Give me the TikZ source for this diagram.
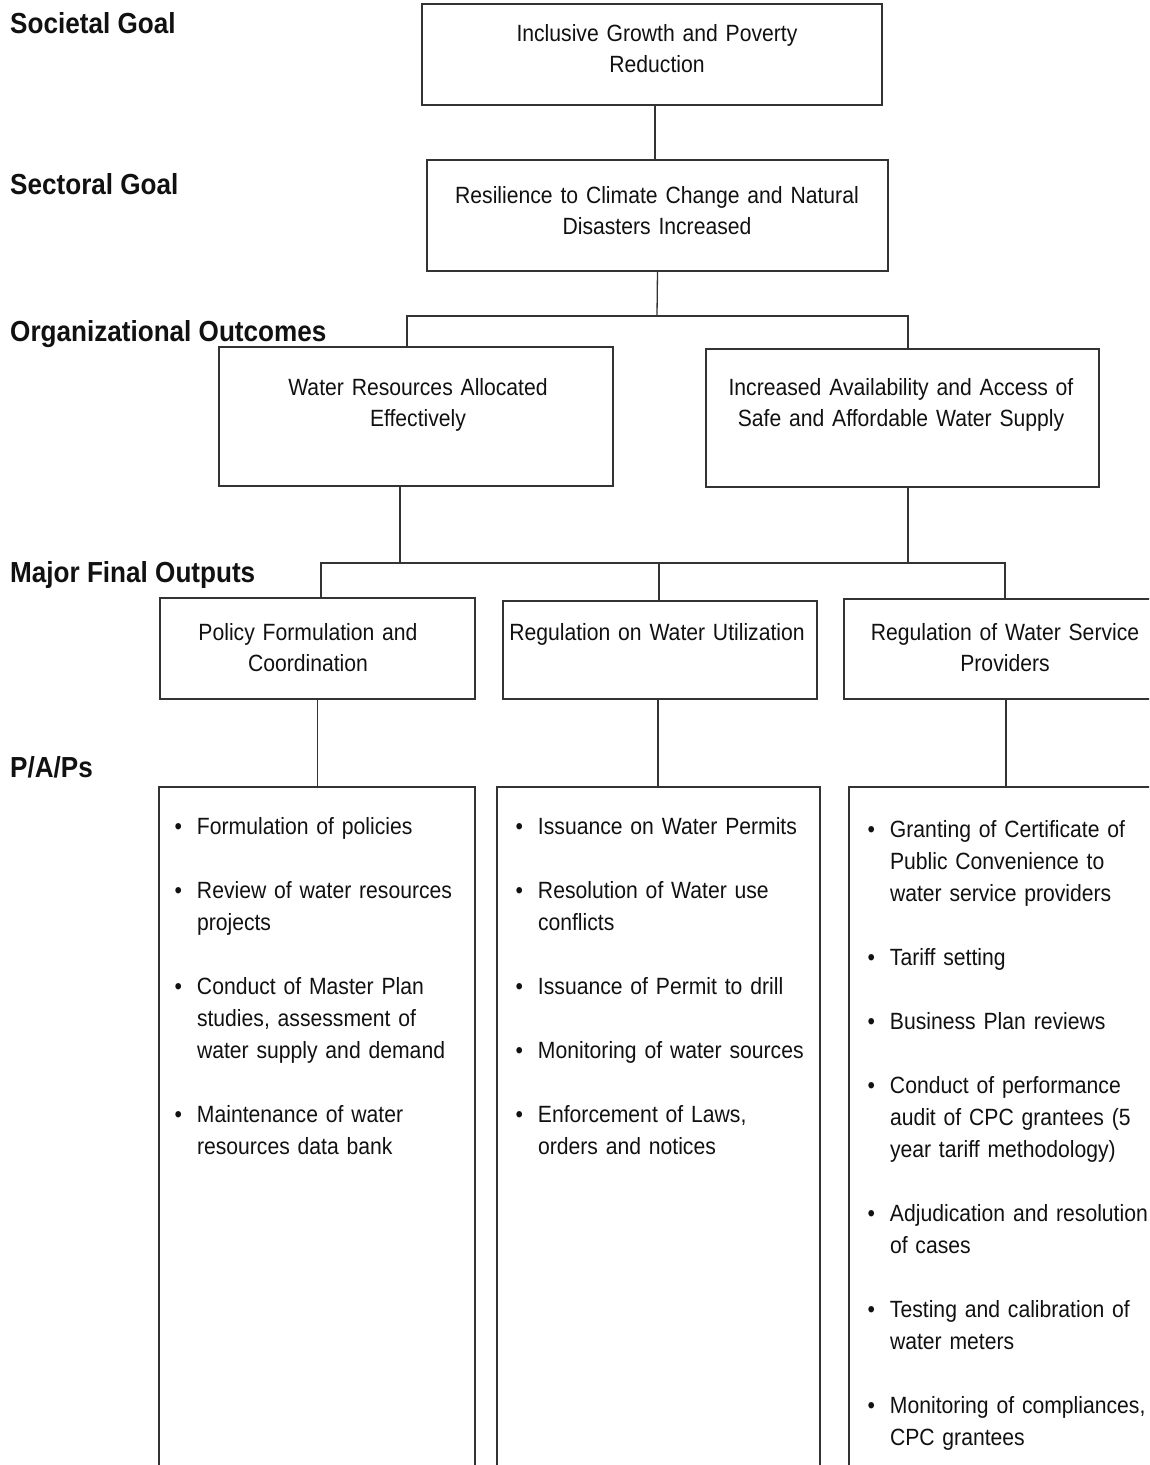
\documentclass[tikz,border=0pt]{standalone}
\usepackage{fontspec}
\setmainfont{Liberation Sans}[FakeStretch=0.9,WordSpace=0.62]
\newfontfamily\lblfont{Liberation Sans}[FakeStretch=0.9]
\definecolor{linec}{HTML}{333333}
\definecolor{txtc}{HTML}{111111}
\newcommand\bfirst[1]{\hangindent=22.5pt\hangafter=1\noindent\rule{0pt}{24pt}\makebox[22.5pt][l]{\textbullet}#1}
\newcommand\bitem[1]{\par\bfirst{#1}}
\tikzset{
  box/.style={draw=linec, line width=1.3pt, inner sep=0pt, outer sep=0pt, anchor=north west},
  conn/.style={draw=linec, line width=1.3pt},
  btxt/.style={inner sep=0pt, text width=#1, align=center, anchor=north, text=txtc,
               font=\fontsize{23.5}{31}\selectfont},
  lbl/.style={inner sep=0pt, anchor=base west, text=txtc, font=\lblfont\bfseries\fontsize{29}{32}\selectfont},
  blist/.style={inner sep=0pt, text width=300pt, anchor=north west, text=txtc,
               font=\fontsize{23.5}{32}\selectfont},
}
\begin{document}
\begin{tikzpicture}[x=1pt,y=-1pt]
\useasboundingbox (0,0) rectangle (1149,1465);
\clip (0,0) rectangle (1149,1465);
\fill[white] (0,0) rectangle (1149,1465);

% level labels
\node[lbl] (l1) at (10,33) {Societal Goal};
\node[lbl] (l2) at (10,194) {Sectoral Goal};
\node[lbl] (l3) at (10,341) {Organizational Outcomes};
\node[lbl] (l4) at (10,582) {Major Final Outputs};
\node[lbl] (l5) at (10,777) {P/A/Ps};

% boxes
\node[box, minimum width=460pt, minimum height=101pt] (b1) at (422,4) {};
\node[box, minimum width=461pt, minimum height=111pt] (b2) at (427,160) {};
\node[box, minimum width=394pt, minimum height=139pt] (b3) at (219,347) {};
\node[box, minimum width=393pt, minimum height=138pt] (b4) at (706,349) {};
\node[box, minimum width=315pt, minimum height=101pt] (b5) at (160,598) {};
\node[box, minimum width=314pt, minimum height=98pt] (b6) at (503,601) {};
\node[box, minimum width=326pt, minimum height=100pt] (b7) at (844,599) {};
\node[box, minimum width=316pt, minimum height=720pt] (b8) at (159,787) {};
\node[box, minimum width=323pt, minimum height=720pt] (b9) at (497,787) {};
\node[box, minimum width=321pt, minimum height=720pt] (b10) at (849,787) {};

% box texts
\node[btxt=440pt] (t1) at (657,17) {\rule{0pt}{24pt}Inclusive Growth and Poverty\\Reduction};
\node[btxt=440pt] (t2) at (657,179) {\rule{0pt}{24pt}Resilience to Climate Change and Natural\\Disasters Increased};
\node[btxt=380pt] (t3) at (418,371) {\rule{0pt}{24pt}Water Resources Allocated\\Effectively};
\node[btxt=380pt] (t4) at (901,371) {\rule{0pt}{24pt}Increased Availability and Access of\\Safe and Affordable Water Supply};
\node[btxt=300pt] (t5) at (308,616) {\rule{0pt}{24pt}Policy Formulation and\\Coordination};
\node[btxt=300pt] (t6) at (657,616) {\rule{0pt}{24pt}Regulation on Water Utilization};
\node[btxt=300pt] (t7) at (1005,616) {\rule{0pt}{24pt}Regulation of Water Service\\Providers};

% lists
\node[blist] (p1) at (174.3,810) {\parskip=32pt%
\bfirst{Formulation of policies}%
\bitem{Review of water resources\newline projects}%
\bitem{Conduct of Master Plan\newline studies, assessment of\newline water supply and demand}%
\bitem{Maintenance of water\newline resources data bank}\par};
\node[blist] (p2) at (515.3,810) {\parskip=32pt%
\bfirst{Issuance on Water Permits}%
\bitem{Resolution of Water use\newline conflicts}%
\bitem{Issuance of Permit to drill}%
\bitem{Monitoring of water sources}%
\bitem{Enforcement of Laws,\newline orders and notices}\par};
\node[blist] (p3) at (867.3,813) {\parskip=32pt%
\bfirst{Granting of Certificate of\newline Public Convenience to\newline water service providers}%
\bitem{Tariff setting}%
\bitem{Business Plan reviews}%
\bitem{Conduct of performance\newline audit of CPC grantees (5\newline year tariff methodology)}%
\bitem{Adjudication and resolution\newline of cases}%
\bitem{Testing and calibration of\newline water meters}%
\bitem{Monitoring of compliances,\newline CPC grantees}\par};

% connectors
\draw[conn] ([xshift=3pt]b1.south) -- ([xshift=3pt]b1.south |- b2.north);
\coordinate (j1) at (657,316);
\draw[conn] (b2.south) -- (j1);
\draw[conn] ([xshift=-9pt]b3.north) |- (j1) -| ([xshift=5.5pt]b4.north);
\coordinate (j2) at (659,563);
\draw[conn] ([xshift=-16pt]b3.south) |- (j2);
\draw[conn] ([xshift=5.5pt]b4.south) |- (j2);
\draw[conn] ([xshift=3.5pt]b5.north) |- (j2) -| ([xshift=-2pt]b7.north);
\draw[conn] (j2) -- ([xshift=-1pt]b6.north);
\draw[conn] (b5.south) -- (b5.south |- b8.north);
\draw[conn] ([xshift=-2pt]b6.south) -- ([xshift=-2pt]b6.south |- b9.north);
\draw[conn] ([xshift=-1pt]b7.south) -- ([xshift=-1pt]b7.south |- b10.north);
\end{tikzpicture}
\end{document}
